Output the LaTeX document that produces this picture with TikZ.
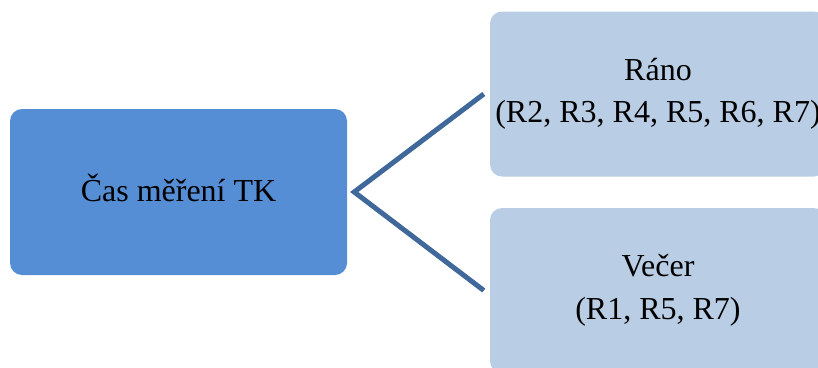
\documentclass[tikz,border=0pt]{standalone}
\usepackage{fontspec}
\setmainfont{Liberation Serif}
\definecolor{rootfill}{HTML}{558ED5}
\definecolor{leaffill}{HTML}{B9CDE5}
\definecolor{linkcol}{HTML}{40689A}
\tikzset{
  rootbox/.style={rectangle, rounded corners=12pt, fill=rootfill, draw=none,
    minimum width=337pt, minimum height=166pt, inner sep=0pt,
    text height=24pt, text depth=5pt,
    font=\fontsize{32pt}{42.5pt}\selectfont},
  leafbox/.style={rectangle, rounded corners=12pt, fill=leaffill, draw=none,
    minimum width=336pt, minimum height=165pt, inner sep=0pt, align=center,
    font=\fontsize{32pt}{42.5pt}\selectfont},
  link/.style={draw=linkcol, line width=5pt, line join=miter}
}
\begin{document}
\begin{tikzpicture}[x=1pt, y=-1pt]
  \useasboundingbox (0,0) rectangle (818,367);
  \clip (0,0) rectangle (818,367);
  % root of the tree
  \node[rootbox] (root) at (178.5,192) {Čas měření TK};
  % the two branches
  \node[leafbox] (rano) at (658,94) {Ráno\\(R2, R3, R4, R5, R6, R7)};
  \node[leafbox] (vecer) at (658,290.5) {Večer\\(R1, R5, R7)};
  % connectors fanning out from the root
  \coordinate (fork) at ([xshift=7pt]root.east);
  \coordinate (endrano) at ([xshift=-6pt]rano.west);
  \coordinate (endvecer) at ([xshift=-6pt]vecer.west);
  \draw[link] (endrano) -- (fork) -- (endvecer);
\end{tikzpicture}
\end{document}
